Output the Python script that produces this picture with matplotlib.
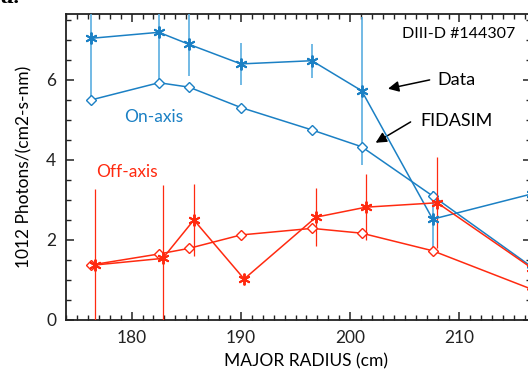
import matplotlib
matplotlib.use("Agg")
import matplotlib.pyplot as plt
from matplotlib.ticker import MultipleLocator

plt.rcParams.update({
    'font.family': ['Lato', 'DejaVu Sans'],
    'axes.linewidth': 1.3,
    'xtick.direction': 'in',
    'ytick.direction': 'in',
})

# ---------------- data ----------------
x_on = [176.3, 182.5, 185.25, 190.0, 196.5, 201.05, 207.55, 216.6]
on_data = [7.04, 7.19, 6.89, 6.40, 6.48, 5.73, 2.52, 3.15]
on_err = [1.60, 1.26, 0.79, 0.53, 0.43, 1.85, 0.70, 0.50]
on_fida = [5.50, 5.93, 5.82, 5.31, 4.75, 4.33, 3.10, 1.33]

x_off = [176.65, 182.85, 185.7, 190.3, 196.87, 201.45, 207.97, 216.6]
off_data = [1.375, 1.54, 2.50, 1.025, 2.57, 2.82, 2.93, 1.30]
off_err = [1.90, 1.84, 0.91, 0.0, 0.72, 0.83, 1.14, 0.0]
off_fida = [1.375, 1.65, 1.79, 2.125, 2.29, 2.17, 1.73, 0.77]

blue = '#1b80c4'
blue_err = '#5aaee0'
red = '#ff2a10'
star = (6, 2, 0)

fig = plt.figure(figsize=(5.28, 3.72), dpi=100)
ax = fig.add_axes([66 / 528, 52 / 372, 464.5 / 528, 306.5 / 372])

# on-axis
ax.errorbar(x_on, on_data, yerr=on_err, color=blue, ecolor=blue_err, elinewidth=1.2,
            lw=1.1, marker=star, ms=8.5, mew=1.4, capsize=0, zorder=3)
ax.plot(x_on, on_fida, color=blue, lw=1.1, marker='D', ms=5.5, mfc='white', mew=1.0, zorder=3)

# off-axis
ax.errorbar(x_off, off_data, yerr=off_err, color=red, ecolor=red, elinewidth=0.9,
            lw=1.1, marker=star, ms=8.5, mew=1.4, capsize=0, zorder=3)
ax.plot(x_on, off_fida, color=red, lw=1.1, marker='D', ms=5.5, mfc='white', mew=1.0, zorder=3)

ax.set_xlim(174, 216.5)
ax.set_ylim(0, 7.66)
ax.xaxis.set_major_locator(MultipleLocator(10))
ax.xaxis.set_minor_locator(MultipleLocator(1))
ax.yaxis.set_major_locator(MultipleLocator(2))
ax.yaxis.set_minor_locator(MultipleLocator(0.5))
ax.tick_params(which='both', top=True, right=True, colors='#222', labelsize=12.5, pad=7)
ax.tick_params(which='major', length=6, width=1.1)
ax.tick_params(which='minor', length=3.5, width=1.0)
for s in ax.spines.values():
    s.set_color('#222')

# texts
ax.text(204.71, 7.15, 'DIII-D #144307', fontsize=11.5, va='center', ha='left')
ax.text(179.31, 5.07, 'On-axis', fontsize=12.5, color=blue, va='center', ha='left')
ax.text(176.72, 3.71, 'Off-axis', fontsize=12.5, color=red, va='center', ha='left')
ax.text(207.94, 6.0, 'Data', fontsize=13, va='center', ha='left')
ax.text(206.45, 4.98, 'FIDASIM', fontsize=13, va='center', ha='left')
arrow = dict(arrowstyle='-|>', color='black', lw=1.1, mutation_scale=16, shrinkA=0, shrinkB=0)
ax.annotate('', xy=(203.46, 5.78), xytext=(207.27, 6.0), arrowprops=arrow)
ax.annotate('', xy=(202.33, 4.43), xytext=(205.53, 4.95), arrowprops=arrow)

fig.text(24 / 528, 1 - 167 / 372, '1012 Photons/(cm2-s-nm)', rotation=90,
         fontsize=12.5, ha='center', va='center')
fig.text(0.58, 1 - 361 / 372, 'MAJOR RADIUS (cm)', fontsize=12.5, ha='center', va='center')
fig.text(0.0, 1 - 3 / 372, 'a.', fontsize=14, fontweight='bold', family='DejaVu Serif',
         ha='left', va='baseline')

fig.savefig('out.png', dpi=100)
